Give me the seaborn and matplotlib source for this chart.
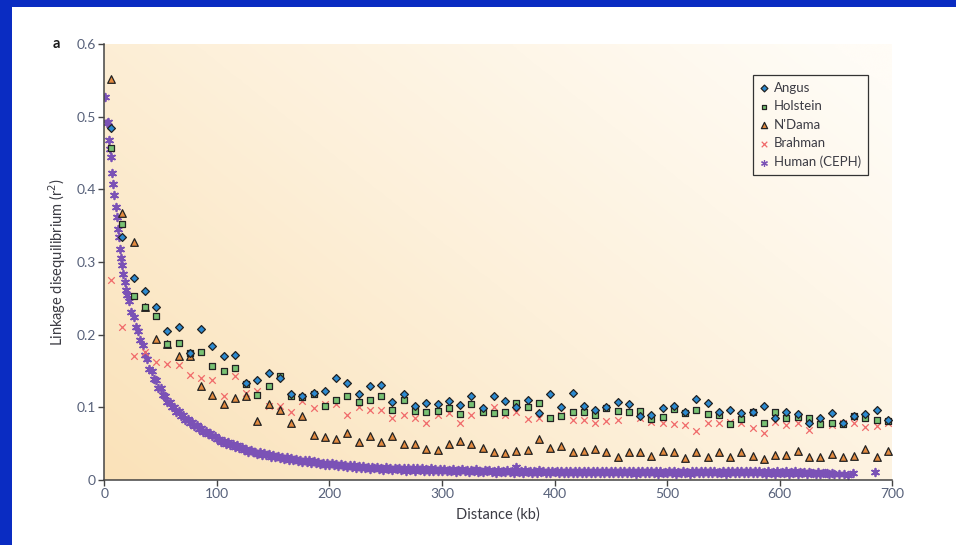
import numpy as np
import pandas as pd
import matplotlib
matplotlib.use("Agg")
import matplotlib.pyplot as plt
from matplotlib.colors import LinearSegmentedColormap
from matplotlib.patches import Rectangle
import seaborn as sns

# ---------------------------------------------------------------------------
# Data: mean r^2 per 10-kb distance bin for four cattle breeds, plus human
# ---------------------------------------------------------------------------
breed_kb = np.arange(6, 700, 10)

angus = [0.484, 0.335, 0.278, 0.260, 0.238, 0.205, 0.211, 0.175, 0.208, 0.184,
         0.170, 0.172, 0.133, 0.137, 0.147, 0.140, 0.119, 0.116, 0.120, 0.122,
         0.140, 0.134, 0.118, 0.129, 0.131, 0.108, 0.118, 0.102, 0.106, 0.104,
         0.109, 0.103, 0.116, 0.099, 0.116, 0.109, 0.101, 0.110, 0.092, 0.119,
         0.100, 0.120, 0.102, 0.096, 0.100, 0.108, 0.105, 0.088, 0.090, 0.099,
         0.102, 0.094, 0.111, 0.106, 0.094, 0.096, 0.092, 0.094, 0.102, 0.086,
         0.094, 0.091, 0.079, 0.086, 0.092, 0.078, 0.088, 0.091, 0.096, 0.082]

holstein = [0.457, 0.352, 0.253, 0.238, 0.226, 0.187, 0.188, 0.175, 0.176, 0.157,
            0.150, 0.154, 0.132, 0.117, 0.129, 0.143, 0.115, 0.114, 0.119, 0.102,
            0.110, 0.115, 0.107, 0.110, 0.115, 0.096, 0.110, 0.095, 0.094, 0.095,
            0.099, 0.091, 0.104, 0.093, 0.092, 0.093, 0.106, 0.100, 0.106, 0.086,
            0.088, 0.093, 0.094, 0.089, 0.099, 0.095, 0.093, 0.095, 0.084, 0.087,
            0.098, 0.092, 0.096, 0.091, 0.089, 0.077, 0.084, 0.093, 0.079, 0.093,
            0.085, 0.087, 0.085, 0.077, 0.079, 0.077, 0.088, 0.085, 0.082, 0.081]

ndama = [0.552, 0.368, 0.328, 0.238, 0.194, 0.187, 0.171, 0.170, 0.129, 0.117,
         0.105, 0.113, 0.116, 0.081, 0.105, 0.096, 0.079, 0.088, 0.062, 0.059,
         0.056, 0.064, 0.052, 0.060, 0.052, 0.061, 0.050, 0.050, 0.042, 0.041,
         0.050, 0.053, 0.050, 0.044, 0.039, 0.037, 0.040, 0.041, 0.056, 0.044,
         0.047, 0.038, 0.040, 0.042, 0.038, 0.032, 0.039, 0.039, 0.033, 0.040,
         0.038, 0.030, 0.038, 0.031, 0.038, 0.031, 0.038, 0.033, 0.029, 0.035,
         0.034, 0.040, 0.031, 0.031, 0.036, 0.032, 0.033, 0.042, 0.032, 0.040]

brahman = [0.275, 0.211, 0.170, 0.176, 0.163, 0.159, 0.158, 0.145, 0.140, 0.138,
           0.115, 0.143, 0.120, 0.123, 0.102, 0.102, 0.094, 0.109, 0.099, 0.105,
           0.105, 0.090, 0.101, 0.096, 0.097, 0.086, 0.089, 0.085, 0.078, 0.089,
           0.092, 0.078, 0.089, 0.097, 0.100, 0.090, 0.093, 0.084, 0.086, 0.085,
           0.090, 0.082, 0.083, 0.079, 0.081, 0.083, 0.094, 0.085, 0.080, 0.079,
           0.077, 0.076, 0.067, 0.078, 0.079, 0.080, 0.078, 0.071, 0.065, 0.080,
           0.076, 0.078, 0.069, 0.080, 0.076, 0.078, 0.079, 0.073, 0.074, 0.078]

# Human (CEPH): finer distance resolution
human_kb = np.r_[np.arange(1, 21), np.arange(22, 101, 2), np.arange(102, 649, 2),
                 [653, 657, 661, 665, 685]]

human = [
    # 1-20 kb
    0.527, 0.491, 0.493, 0.468, 0.456, 0.445, 0.422, 0.408, 0.392, 0.376,
    0.362, 0.346, 0.335, 0.318, 0.305, 0.296, 0.284, 0.272, 0.262, 0.255,
    # 22-100 kb
    0.247, 0.231, 0.224, 0.210, 0.205, 0.193, 0.186, 0.172, 0.166, 0.153,
    0.150, 0.139, 0.137, 0.127, 0.126, 0.117, 0.116, 0.108, 0.108, 0.100,
    0.101, 0.094, 0.095, 0.088, 0.089, 0.083, 0.084, 0.078, 0.080, 0.074,
    0.076, 0.070, 0.072, 0.066, 0.068, 0.063, 0.065, 0.060, 0.061, 0.056,
    # 102-648 kb
    0.056, 0.052, 0.054, 0.050, 0.052, 0.048, 0.049, 0.046, 0.048, 0.044,
    0.045, 0.041, 0.043, 0.039, 0.041, 0.038, 0.039, 0.036, 0.038, 0.035,
    0.037, 0.034, 0.036, 0.032, 0.034, 0.031, 0.033, 0.030, 0.032, 0.029,
    0.031, 0.028, 0.030, 0.027, 0.029, 0.026, 0.028, 0.025, 0.028, 0.025,
    0.027, 0.024, 0.026, 0.023, 0.025, 0.022, 0.024, 0.021, 0.023, 0.021,
    0.023, 0.020, 0.022, 0.019, 0.022, 0.019, 0.021, 0.018, 0.020, 0.018,
    0.020, 0.017, 0.019, 0.016, 0.019, 0.017, 0.018, 0.015, 0.018, 0.016,
    0.018, 0.015, 0.017, 0.014, 0.018, 0.015, 0.017, 0.014, 0.016, 0.015,
    0.017, 0.014, 0.016, 0.013, 0.017, 0.014, 0.016, 0.013, 0.016, 0.014,
    0.016, 0.013, 0.015, 0.012, 0.016, 0.013, 0.015, 0.012, 0.015, 0.013,
    0.015, 0.012, 0.014, 0.012, 0.015, 0.011, 0.014, 0.012, 0.015, 0.012,
    0.014, 0.011, 0.014, 0.012, 0.015, 0.011, 0.013, 0.011, 0.014, 0.012,
    0.014, 0.011, 0.013, 0.010, 0.014, 0.011, 0.013, 0.011, 0.014, 0.011,
    0.013, 0.010, 0.018, 0.011, 0.013, 0.010, 0.014, 0.011, 0.013, 0.010,
    0.013, 0.010, 0.014, 0.011, 0.013, 0.009, 0.013, 0.010, 0.013, 0.011,
    0.013, 0.010, 0.012, 0.009, 0.013, 0.010, 0.013, 0.010, 0.012, 0.009,
    0.012, 0.010, 0.013, 0.009, 0.012, 0.010, 0.013, 0.009, 0.012, 0.010,
    0.013, 0.009, 0.012, 0.010, 0.012, 0.009, 0.013, 0.010, 0.012, 0.009,
    0.012, 0.009, 0.013, 0.010, 0.012, 0.008, 0.012, 0.010, 0.012, 0.009,
    0.012, 0.009, 0.012, 0.010, 0.012, 0.008, 0.012, 0.009, 0.011, 0.009,
    0.012, 0.009, 0.012, 0.008, 0.011, 0.009, 0.012, 0.009, 0.011, 0.008,
    0.012, 0.009, 0.012, 0.010, 0.013, 0.009, 0.012, 0.009, 0.012, 0.010,
    0.012, 0.009, 0.011, 0.009, 0.012, 0.008, 0.012, 0.010, 0.013, 0.009,
    0.012, 0.010, 0.013, 0.009, 0.012, 0.010, 0.013, 0.009, 0.012, 0.009,
    0.012, 0.009, 0.011, 0.008, 0.012, 0.009, 0.011, 0.008, 0.012, 0.009,
    0.011, 0.009, 0.012, 0.008, 0.011, 0.009, 0.012, 0.008, 0.011, 0.009,
    0.011, 0.008, 0.011, 0.009, 0.010, 0.008, 0.011, 0.008, 0.010, 0.009,
    0.010, 0.008, 0.009, 0.008,
    # sparse tail
    0.008, 0.008, 0.007, 0.009, 0.011,
]

x_ticks = [0, 100, 200, 300, 400, 500, 600, 700]
y_ticks = [0, 0.1, 0.2, 0.3, 0.4, 0.5, 0.6]
y_tick_labels = ["0", "0.1", "0.2", "0.3", "0.4", "0.5", "0.6"]

# ---------------------------------------------------------------------------
# Figure
# ---------------------------------------------------------------------------
sns.set_theme(style="white")
plt.rcParams["font.family"] = ["Lato", "DejaVu Sans"]

W, H = 956, 545
fig = plt.figure(figsize=(W / 100, H / 100), dpi=100, facecolor="#0a2cc2")
# white slide panel inside the blue frame
fig.patches.append(Rectangle((12 / W, 0), 1 - 12 / W, 1 - 7 / H,
                             transform=fig.transFigure, facecolor="white",
                             edgecolor="none", zorder=-5))

ax = fig.add_axes([104.3 / W, 1 - 480 / H, 788 / W, 436 / H])
ax.patch.set_alpha(0)

# soft cream gradient behind the data
gx, gy = np.meshgrid(np.linspace(0, 1, 200), np.linspace(0, 1, 200))
grad = 0.65 * gx + 0.45 * gy
cmap = LinearSegmentedColormap.from_list("cream", ["#fae2b9", "#fdf0da", "#fffcf6"])
ax.imshow(grad, extent=[0, 700, 0, 0.6], origin="lower", aspect="auto",
          cmap=cmap, vmin=0, vmax=1.05, zorder=0, interpolation="bicubic")

sns.scatterplot(x=human_kb, y=human, ax=ax, marker=(6, 2, 0), s=30,
                color="#7b52b6", linewidth=1.3, label="Human (CEPH)", zorder=2)
sns.scatterplot(x=breed_kb, y=brahman, ax=ax, marker="x", s=22,
                color="#f06a6a", linewidth=0.9, label="Brahman", zorder=3)
sns.scatterplot(x=breed_kb, y=ndama, ax=ax, marker="^", s=30,
                color="#e38a3f", edgecolor="#222222", linewidth=0.9,
                label="N'Dama", zorder=4)
sns.scatterplot(x=breed_kb, y=holstein, ax=ax, marker="s", s=16,
                color="#78c274", edgecolor="#222222", linewidth=0.9,
                label="Holstein", zorder=5)
sns.scatterplot(x=breed_kb, y=angus, ax=ax, marker="D", s=16,
                color="#2c8ad0", edgecolor="#222222", linewidth=0.9,
                label="Angus", zorder=6)

ax.set_xlim(0, 700)
ax.set_ylim(0, 0.6)
ax.set_xticks(x_ticks)
ax.set_yticks(y_ticks)
ax.set_yticklabels(y_tick_labels)

tick_col = "#57617a"
ax.tick_params(axis="both", which="major", direction="out", length=4, width=1,
               color="#444444", labelsize=10, labelcolor=tick_col, pad=2,
               left=True, bottom=True)
for side in ("top", "right"):
    ax.spines[side].set_visible(False)
for side in ("left", "bottom"):
    ax.spines[side].set_color("#444444")
    ax.spines[side].set_linewidth(1.1)

ax.set_xlabel("Distance (kb)", fontsize=10.5, color="#3c3c44", labelpad=5)
ax.set_ylabel("Linkage disequilibrium (r$^2$)", fontsize=10.5, color="#3c3c44",
              labelpad=6)

fig.text(53 / W, 1 - 44 / H, "a", fontsize=10.5, fontweight="bold",
         color="#1a1a1a", ha="left", va="center")

# legend in series order Angus -> Human
handles, labels = ax.get_legend_handles_labels()
order = ["Angus", "Holstein", "N'Dama", "Brahman", "Human (CEPH)"]
hmap = dict(zip(labels, handles))
leg = ax.legend([hmap[k] for k in order], order, loc="upper right",
                bbox_to_anchor=(0.969, 0.929), borderaxespad=0,
                fontsize=9.5, frameon=True, fancybox=False, framealpha=1,
                facecolor="none", edgecolor="#333333", handlelength=0.6,
                handletextpad=0.5, labelspacing=0.5, borderpad=0.5)
leg.get_frame().set_linewidth(0.9)
# smaller symbols in the key
legend_sizes = {"Angus": 12, "Holstein": 11, "N'Dama": 20, "Brahman": 16,
                "Human (CEPH)": 18}
for h, name in zip(leg.legend_handles, order):
    h.set_sizes([legend_sizes[name]])
    if name == "Human (CEPH)":
        h.set_linewidth(0.9)
for t in leg.get_texts():
    t.set_color("#3c3c44")

fig.savefig("out.png", dpi=100, facecolor=fig.get_facecolor())
